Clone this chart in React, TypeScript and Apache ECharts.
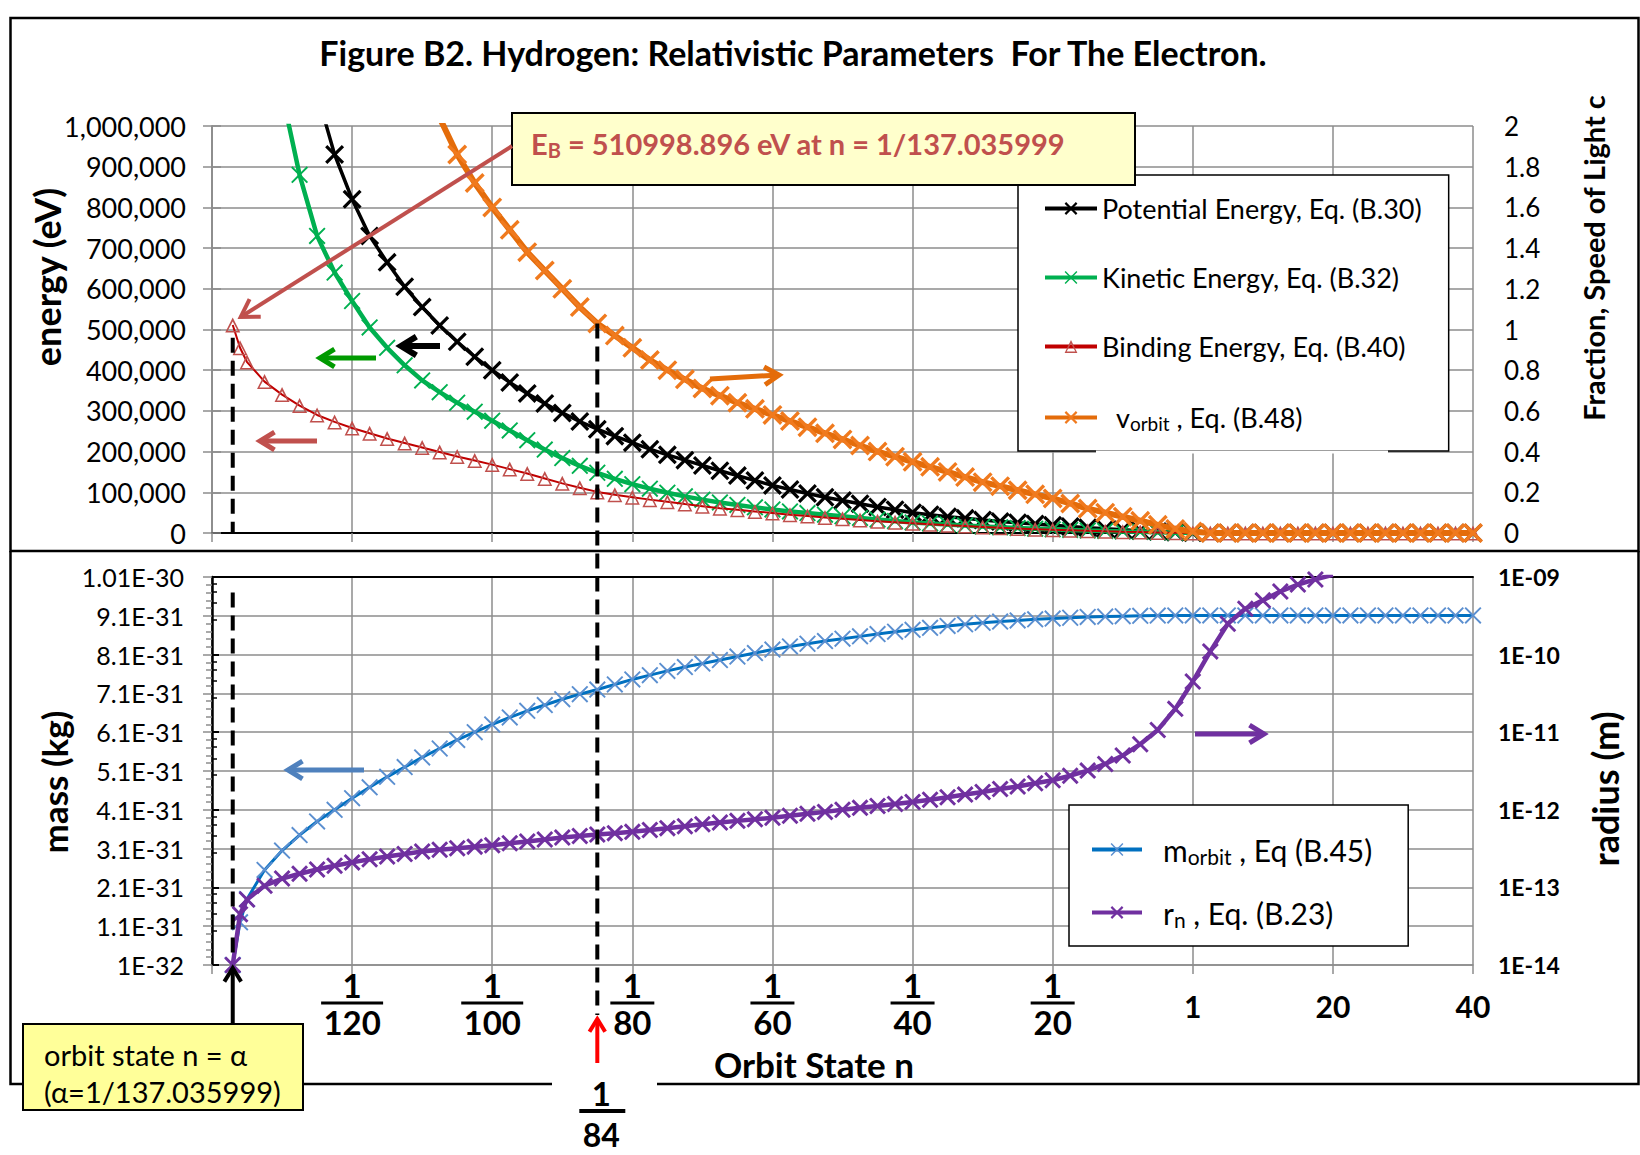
import React, { useEffect, useRef } from 'react';
import * as echarts from 'echarts';

// Positions along the orbit-state axis (0 = 1/140, 20 = 1/120, ... 120 = 1/20, 140 = 1, 160 = 20, 180 = 40)
const orbitPos = [2.96, 4, 5, 7.5, 10, 12.5, 15, 17.5, 20, 22.5, 25, 27.5, 30, 32.5, 35, 37.5, 40, 42.5, 45, 47.5, 50, 52.5, 55, 57.5, 60, 62.5, 65, 67.5, 70, 72.5, 75, 77.5, 80, 82.5, 85, 87.5, 90, 92.5, 95, 97.5, 100, 102.5, 105, 107.5, 110, 112.5, 115, 117.5, 120, 122.5, 125, 127.5, 130, 132.5, 135, 137.5, 140, 142.5, 145, 147.5, 150, 152.5, 155, 157.5, 160, 162.5, 165, 167.5, 170, 172.5, 175, 177.5, 180];

// energies (eV)
const potentialEnergy = [null, null, null, null, null, null, 1080000, 930000, 820000, 730000, 665000, 605000, 555000, 510000, 470000, 433000, 400000, 370000, 343000, 318000, 295000, 274000, 255000, 238000, 222000, 206000, 192000, 179000, 166000, 153000, 141000, 129000, 117000, 107000, 97000, 88000, 80000, 72000, 64000, 57000, 50000, 45000, 40000, 36000, 32000, 28000, 25000, 22000, 19000, 16000, 13000, 10500, 8000, 5500, 3500, 1800, 400, 0, 0, 0, 0, 0, 0, 0, 0, 0, 0, 0, 0, 0, 0, 0, 0];
const kineticEnergy = [null, null, null, null, 1080000, 880000, 730000, 640000, 570000, 505000, 455000, 412000, 375000, 346000, 320000, 298000, 276000, 252000, 228000, 205000, 184000, 165000, 148000, 133000, 120000, 109000, 99000, 90000, 82000, 75000, 69000, 63000, 58000, 53000, 49000, 45000, 41000, 37000, 33000, 29500, 26000, 23500, 21000, 18500, 16000, 14000, 12000, 10500, 9000, 7500, 6000, 5000, 3800, 2800, 1800, 900, 200, 0, 0, 0, 0, 0, 0, 0, 0, 0, 0, 0, 0, 0, 0, 0, 0];
const bindingEnergy = [511000, 455000, 420000, 372000, 340000, 313000, 290000, 273000, 258000, 245000, 232000, 221000, 210000, 199000, 188000, 178000, 168000, 157000, 146000, 134000, 122000, 111000, 101000, 94000, 88000, 82000, 77000, 71000, 66000, 61000, 57000, 53000, 49000, 45000, 42000, 38000, 35000, 32000, 29000, 26500, 24000, 21500, 19000, 17000, 15000, 13000, 11000, 9500, 8000, 6700, 5500, 4300, 3200, 2300, 1500, 800, 200, 0, 0, 0, 0, 0, 0, 0, 0, 0, 0, 0, 0, 0, 0, 0, 0];
// fraction of the speed of light
const vOrbit = [null, null, null, null, null, null, null, null, null, null, null, null, 2.25, 2.04, 1.86, 1.72, 1.6, 1.49, 1.38, 1.29, 1.2, 1.11, 1.03, 0.97, 0.91, 0.85, 0.8, 0.755, 0.71, 0.675, 0.64, 0.61, 0.58, 0.55, 0.52, 0.49, 0.46, 0.43, 0.4, 0.375, 0.35, 0.325, 0.3, 0.275, 0.25, 0.23, 0.21, 0.19, 0.17, 0.145, 0.12, 0.1, 0.08, 0.06, 0.04, 0.02, 0.007, 0, 0, 0, 0, 0, 0, 0, 0, 0, 0, 0, 0, 0, 0, 0, 0];
// mass in units of 1E-31 kg
const mOrbit = [0.1, 1.2, 1.8, 2.55, 3.05, 3.45, 3.8, 4.1, 4.4, 4.68, 4.95, 5.2, 5.45, 5.68, 5.9, 6.1, 6.3, 6.48, 6.65, 6.8, 6.95, 7.08, 7.2, 7.33, 7.46, 7.57, 7.68, 7.78, 7.87, 7.96, 8.05, 8.14, 8.23, 8.31, 8.38, 8.45, 8.51, 8.57, 8.63, 8.69, 8.74, 8.79, 8.84, 8.88, 8.92, 8.95, 8.98, 9.01, 9.03, 9.05, 9.07, 9.08, 9.09, 9.1, 9.105, 9.11, 9.11, 9.11, 9.11, 9.11, 9.11, 9.11, 9.11, 9.11, 9.11, 9.11, 9.11, 9.11, 9.11, 9.11, 9.11, 9.11, 9.11];
// radius (m)
const rN = [1.0e-14, 4.5e-14, 7.0e-14, 1.05e-13, 1.3e-13, 1.5e-13, 1.7e-13, 1.9e-13, 2.1e-13, 2.3e-13, 2.5e-13, 2.7e-13, 2.9e-13, 3.05e-13, 3.2e-13, 3.35e-13, 3.5e-13, 3.7e-13, 3.9e-13, 4.15e-13, 4.4e-13, 4.6e-13, 4.8e-13, 5.0e-13, 5.2e-13, 5.5e-13, 5.8e-13, 6.15e-13, 6.5e-13, 6.85e-13, 7.2e-13, 7.55e-13, 7.9e-13, 8.4e-13, 8.9e-13, 9.4e-13, 1.0e-12, 1.06e-12, 1.12e-12, 1.19e-12, 1.26e-12, 1.35e-12, 1.45e-12, 1.57e-12, 1.7e-12, 1.85e-12, 2.0e-12, 2.2e-12, 2.4e-12, 2.75e-12, 3.2e-12, 3.9e-12, 5.0e-12, 7.0e-12, 1.07e-11, 2.0e-11, 4.5e-11, 1.1e-10, 2.5e-10, 3.9e-10, 5.0e-10, 6.5e-10, 8.0e-10, 9.3e-10, 1.07e-9, null, null, null, null, null, null, null, null];

const xTickPos = [20, 40, 60, 80, 100, 120, 140, 160, 180];
const xTickLabels = ['1/120', '1/100', '1/80', '1/60', '1/40', '1/20', '1', '20', '40'];

const seriesNames = ['Potential Energy, Eq. (B.30)', 'Kinetic Energy, Eq. (B.32)', 'Binding Energy, Eq. (B.40)', 'v_orbit, Eq. (B.48)', 'm_orbit, Eq (B.45)', 'r_n, Eq. (B.23)'];

const alphaPos = 2.96; // n = alpha = 1/137.035999
const guidePos = 55; // guide line labelled 1/84

const FONT = 'Lato';
const GRID_GRAY = '#8C8C8C';
const SYM_X = 'path://M0,1.2 L1.2,0 L5,3.8 L8.8,0 L10,1.2 L6.2,5 L10,8.8 L8.8,10 L5,6.2 L1.2,10 L0,8.8 L3.8,5 Z';
const SYM_X_THIN = 'path://M0,0.8 L0.8,0 L5,4.2 L9.2,0 L10,0.8 L5.8,5 L10,9.2 L9.2,10 L5,5.8 L0.8,10 L0,9.2 L4.2,5 Z';
const SYM_TRI = 'path://M5,0 L10,10 L0,10 Z M5,2.6 L1.6,9 L8.4,9 Z';

function pairs(values: (number | null)[]) {
  const out: number[][] = [];
  values.forEach((v, i) => {
    if (v !== null) out.push([orbitPos[i], v]);
  });
  return out;
}

const legendRich = {
  t: { fontFamily: FONT, fontSize: 27, lineHeight: 32, color: '#000' },
  s: { fontFamily: FONT, fontSize: 19, lineHeight: 20, color: '#000', padding: [12, 0, 0, 0] },
  g: { width: 14 },
  T: { fontFamily: FONT, fontSize: 30, lineHeight: 34, color: '#000' },
  S: { fontFamily: FONT, fontSize: 21, lineHeight: 22, color: '#000', padding: [14, 0, 0, 0] },
  G: { width: 16 },
};

function legendFormatter(name: string) {
  if (name.startsWith('v_orbit')) return '{g|}{t|v}{s|orbit}{t| , Eq. (B.48)}';
  if (name.startsWith('m_orbit')) return '{G|}{T|m}{S|orbit}{T| , Eq (B.45)}';
  if (name.startsWith('r_n')) return '{G|}{T|r}{S|n}{T| , Eq. (B.23)}';
  return '{t|' + name + '}';
}

function buildOption() {
  const axisGray = { lineStyle: { color: GRID_GRAY, width: 1.5 } };
  const defs = [
    { values: potentialEnergy, x: 0, y: 0, line: '#000000', mark: '#000000', width: 3.5, symbol: SYM_X, size: 19 },
    { values: kineticEnergy, x: 0, y: 0, line: '#00B050', mark: '#00B050', width: 4.5, symbol: SYM_X_THIN, size: 17 },
    { values: bindingEnergy, x: 0, y: 0, line: '#C00000', mark: '#C0504D', width: 2, symbol: SYM_TRI, size: 15 },
    { values: vOrbit, x: 0, y: 1, line: '#E46C0A', mark: '#F07A1E', width: 6, symbol: SYM_X, size: 20 },
    { values: mOrbit, x: 1, y: 2, line: '#0070C0', mark: '#5B8FD0', width: 3, symbol: SYM_X_THIN, size: 17 },
    { values: rN, x: 1, y: 3, line: '#7030A0', mark: '#7030A0', width: 4.5, symbol: SYM_X, size: 17 },
  ];
  const series = defs.map((d, i) => ({
    type: 'line',
    name: seriesNames[i],
    xAxisIndex: d.x,
    yAxisIndex: d.y,
    data: pairs(d.values as (number | null)[]),
    showSymbol: true,
    showAllSymbol: true,
    symbol: d.symbol,
    symbolSize: d.size,
    lineStyle: { color: d.line, width: d.width },
    itemStyle: { color: d.mark, borderWidth: 0 },
    clip: true,
    z: 2 + i,
  }));

  const xBase = (gridIndex: number) => ({
    type: 'value',
    gridIndex,
    min: 0,
    max: 180,
    interval: 20,
    axisLine: { show: true, ...axisGray },
    axisTick: { show: true, length: 9, ...axisGray },
    splitLine: { show: true, ...axisGray },
  });
  const xBorder = (gridIndex: number) => ({
    type: 'value',
    gridIndex,
    position: 'top',
    min: 0,
    max: 180,
    axisLine: { show: true, lineStyle: { color: '#000', width: 2 } },
    axisTick: { show: false },
    axisLabel: { show: false },
    splitLine: { show: false },
  });

  const fracRich = {
    n: { fontFamily: FONT, fontWeight: 'bold', fontSize: 33, lineHeight: 33, align: 'center', color: '#000' },
    d: { fontFamily: FONT, fontWeight: 'bold', fontSize: 33, lineHeight: 33, align: 'center', color: '#000' },
    b2: { width: 44, height: 3, lineHeight: 4, backgroundColor: '#000', align: 'center' },
    b3: { width: 62, height: 3, lineHeight: 4, backgroundColor: '#000', align: 'center' },
    p: { fontFamily: FONT, fontWeight: 'bold', fontSize: 30, lineHeight: 76, align: 'center', color: '#000' },
  };

  const legendCommon = {
    orient: 'vertical',
    backgroundColor: '#ffffff',
    borderColor: '#000',
    borderWidth: 1.5,
    selectedMode: false,
    formatter: legendFormatter,
    lineStyle: { width: 4 },
  };

  return {
    animation: false,
    backgroundColor: '#ffffff',
    grid: [
      { left: 212, top: 126, width: 1261, height: 407 },
      { left: 212, top: 577, width: 1261, height: 388 },
    ],
    xAxis: [
      { ...xBase(0), axisLabel: { show: false } },
      {
        ...xBase(1),
        axisLabel: {
          show: true,
          margin: 3,
          rich: fracRich,
          formatter: (v: number) => {
            const i = xTickPos.indexOf(Math.round(v));
            if (i < 0) return '';
            const lab = xTickLabels[i];
            if (lab.includes('/')) {
              const [num, den] = lab.split('/');
              return `{n|${num}}\n{${den.length > 2 ? 'b3' : 'b2'}|}\n{d|${den}}`;
            }
            return `{p|${lab}}`;
          },
        },
      },
      xBorder(0),
      xBorder(1),
    ],
    yAxis: [
      {
        type: 'value', gridIndex: 0, position: 'left', min: 0, max: 1000000, interval: 100000,
        axisLine: { show: true, ...axisGray },
        axisTick: { show: true, length: 9, ...axisGray },
        splitLine: { show: true, ...axisGray },
        axisLabel: { fontFamily: FONT, fontSize: 27, color: '#000', margin: 26, formatter: (v: number) => v.toLocaleString('en-US') },
      },
      {
        type: 'value', gridIndex: 0, position: 'right', min: 0, max: 2, interval: 0.2,
        axisLine: { show: true, ...axisGray },
        axisTick: { show: true, length: 9, ...axisGray },
        splitLine: { show: false },
        axisLabel: { fontFamily: FONT, fontSize: 26, color: '#000', margin: 31, formatter: (v: number) => String(Math.round(v * 10) / 10) },
      },
      {
        type: 'value', gridIndex: 1, position: 'left', min: 0.1, max: 10.1, interval: 1,
        axisLine: { show: true, ...axisGray },
        axisTick: { show: true, length: 9, ...axisGray },
        minorTick: { show: true, splitNumber: 5, length: 6, ...axisGray },
        splitLine: { show: true, ...axisGray },
        axisLabel: {
          fontFamily: FONT, fontSize: 25, color: '#000', margin: 28,
          formatter: (v: number) => {
            if (Math.abs(v - 0.1) < 1e-6) return '1E-32';
            if (Math.abs(v - 10.1) < 1e-6) return '1.01E-30';
            return v.toFixed(1) + 'E-31';
          },
        },
      },
      {
        type: 'log', logBase: 10, gridIndex: 1, position: 'right', min: 1e-14, max: 1e-9,
        axisLine: { show: true, lineStyle: { color: '#000', width: 2.5 } },
        axisTick: { show: true, length: 7, lineStyle: { color: '#000', width: 2 } },
        minorTick: { show: true, splitNumber: 5, length: 5, lineStyle: { color: '#000', width: 1.5 } },
        splitLine: { show: false },
        axisLabel: {
          fontFamily: FONT, fontWeight: 'bold', fontSize: 23, color: '#000', margin: 25,
          formatter: (v: number) => {
            const e = Math.round(Math.log10(v));
            return '1E-' + String(-e).padStart(2, '0');
          },
        },
      },
    ],
    legend: [
      {
        ...legendCommon,
        data: seriesNames.slice(0, 4),
        left: 1018,
        top: 175,
        padding: [20, 27, 18, 25],
        itemWidth: 52,
        itemHeight: 16,
        itemGap: 42,
        textStyle: { fontFamily: FONT, fontSize: 27, color: '#000', rich: legendRich },
      },
      {
        ...legendCommon,
        data: seriesNames.slice(4),
        left: 1069,
        top: 805,
        padding: [27, 36, 16, 21],
        itemWidth: 50,
        itemHeight: 16,
        itemGap: 28,
        textStyle: { fontFamily: FONT, fontSize: 30, color: '#000', rich: legendRich },
      },
    ],
    series,
  };
}

function txt(text: string, x: number, y: number, font: string, opts: any = {}) {
  return {
    type: 'text', x, y, z: 100, silent: true, rotation: opts.rotation || 0,
    style: {
      text, font, fill: opts.fill || '#000',
      align: opts.align || 'center', verticalAlign: 'middle',
      textAlign: opts.align || 'center', textVerticalAlign: 'middle',
      rich: opts.rich,
    },
  };
}

function arrow(x1: number, y1: number, x2: number, y2: number, color: string, w: number, head = 16) {
  const ang = Math.atan2(y2 - y1, x2 - x1);
  const a1 = ang + Math.PI - 0.55;
  const a2 = ang + Math.PI + 0.55;
  return [
    { type: 'line', z: 100, silent: true, shape: { x1, y1, x2, y2 }, style: { stroke: color, lineWidth: w } },
    {
      type: 'polyline', z: 100, silent: true,
      shape: { points: [[x2 + head * Math.cos(a1), y2 + head * Math.sin(a1)], [x2, y2], [x2 + head * Math.cos(a2), y2 + head * Math.sin(a2)]] },
      style: { stroke: color, lineWidth: w, fill: 'none', lineJoin: 'miter' },
    },
  ];
}

function dashed(x: number, y1: number, y2: number) {
  return { type: 'line', z: 90, silent: true, shape: { x1: x, y1, x2: x, y2 }, style: { stroke: '#000', lineWidth: 4, lineDash: [15, 8] } };
}

export default function App() {
  const ref = useRef<HTMLDivElement>(null);
  useEffect(() => {
    const el = ref.current;
    if (!el) return;
    const chart = echarts.init(el, null, { renderer: 'svg' });
    chart.setOption(buildOption() as any);

    const px = (v: number) => chart.convertToPixel({ xAxisIndex: 0 }, v) as number;
    const pyE = (v: number) => chart.convertToPixel({ yAxisIndex: 0 }, v) as number;
    const pyV = (v: number) => chart.convertToPixel({ yAxisIndex: 1 }, v) as number;
    const pyM = (v: number) => chart.convertToPixel({ yAxisIndex: 2 }, v) as number;
    const xa = px(alphaPos);
    const xg = px(guidePos);

    const g: any[] = [];
    const frame = { fill: 'none', stroke: '#000', lineWidth: 2.5 };
    g.push({ type: 'rect', z: 100, silent: true, shape: { x: 10.5, y: 18, width: 1628, height: 533 }, style: frame });
    g.push({ type: 'polyline', z: 100, silent: true, shape: { points: [[10.5, 551], [10.5, 1084], [552, 1084]] }, style: frame });
    g.push({ type: 'polyline', z: 100, silent: true, shape: { points: [[657, 1084], [1638.5, 1084], [1638.5, 551]] }, style: frame });
    // gap in the first legend's bottom border
    g.push({ type: 'line', z: 100, silent: true, shape: { x1: 1096, y1: 452, x2: 1388, y2: 452 }, style: { stroke: '#fff', lineWidth: 3 } });

    g.push(txt('Figure B2. Hydrogen: Relativistic Parameters  For The Electron.', 793, 52, `bold 34px ${FONT}`));
    g.push(txt('energy (eV)', 47, 277, `bold 36px ${FONT}`, { rotation: Math.PI / 2 }));
    g.push(txt('Fraction, Speed of Light c', 1593, 258, `bold 29px ${FONT}`, { rotation: Math.PI / 2 }));
    g.push(txt('mass (kg)', 54, 782, `bold 35px ${FONT}`, { rotation: Math.PI / 2 }));
    g.push(txt('radius (m)', 1605, 789, `bold 36px ${FONT}`, { rotation: Math.PI / 2 }));
    g.push(txt('Orbit State n', 814, 1064, `bold 35px ${FONT}`));

    // E_B annotation box
    g.push({ type: 'rect', z: 100, silent: true, shape: { x: 512, y: 113, width: 623, height: 72 }, style: { fill: '#FFFFCC', stroke: '#000', lineWidth: 2 } });
    g.push(txt('{t|E}{s|B}{t| = 510998.896 eV at n = 1/137.035999}', 531, 143, `bold 29px ${FONT}`, {
      align: 'left',
      rich: {
        t: { fontFamily: FONT, fontWeight: 'bold', fontSize: 29, lineHeight: 34, fill: '#C0504D', color: '#C0504D' },
        s: { fontFamily: FONT, fontWeight: 'bold', fontSize: 20, lineHeight: 20, fill: '#C0504D', color: '#C0504D', padding: [14, 0, 0, 0] },
      },
    }));

    // series indicator arrows
    g.push(...arrow(512, 146, xa + 8, pyE(511000) - 8, '#C0504D', 4, 20));
    g.push(...arrow(440, 346, 401, 346, '#000', 6, 18));
    g.push(...arrow(376, 358, 320, 358, '#009A00', 5, 17));
    g.push(...arrow(317, 441, 260, 441, '#C0504D', 5, 17));
    g.push(...arrow(710, 379, 779, 375, '#E46C0A', 5, 17));
    g.push(...arrow(364, 770, 288, 770, '#4F81BD', 5, 17));
    g.push(...arrow(1195, 734, 1264, 734, '#7030A0', 5, 17));

    // guide lines
    g.push(dashed(xa, pyE(480000), pyE(0)));
    g.push(dashed(xa, pyM(9.7), pyM(0.25)));
    g.push(dashed(xg, pyV(1.03), 1015));

    // alpha annotation
    g.push(...arrow(xa, 1024, xa, 968, '#000', 4, 16));
    g.push({ type: 'rect', z: 100, silent: true, shape: { x: 23, y: 1024, width: 280, height: 86 }, style: { fill: '#FFFF99', stroke: '#000', lineWidth: 2 } });
    g.push(txt('orbit state n = \u03b1', 44, 1054, `29px ${FONT}`, { align: 'left' }));
    g.push(txt('(\u03b1=1/137.035999)', 44, 1091, `29px ${FONT}`, { align: 'left' }));

    // 1/84 label
    g.push(...arrow(xg, 1063, xg, 1019, '#FF0000', 4, 15));
    g.push({ type: 'rect', z: 99, silent: true, shape: { x: 553, y: 1076, width: 103, height: 79 }, style: { fill: '#fff' } });
    g.push(txt('1', xg + 4, 1093, `bold 33px ${FONT}`));
    g.push({ type: 'line', z: 100, silent: true, shape: { x1: xg - 18, y1: 1111, x2: xg + 28, y2: 1111 }, style: { stroke: '#000', lineWidth: 4 } });
    g.push(txt('84', xg + 4, 1134, `bold 32px ${FONT}`));

    chart.setOption({ graphic: { elements: g } } as any);
    return () => chart.dispose();
  }, []);
  return <div ref={ref} style={{ position: 'fixed', left: 0, top: 0, width: 1640, height: 1155, background: '#fff' }} />;
}
